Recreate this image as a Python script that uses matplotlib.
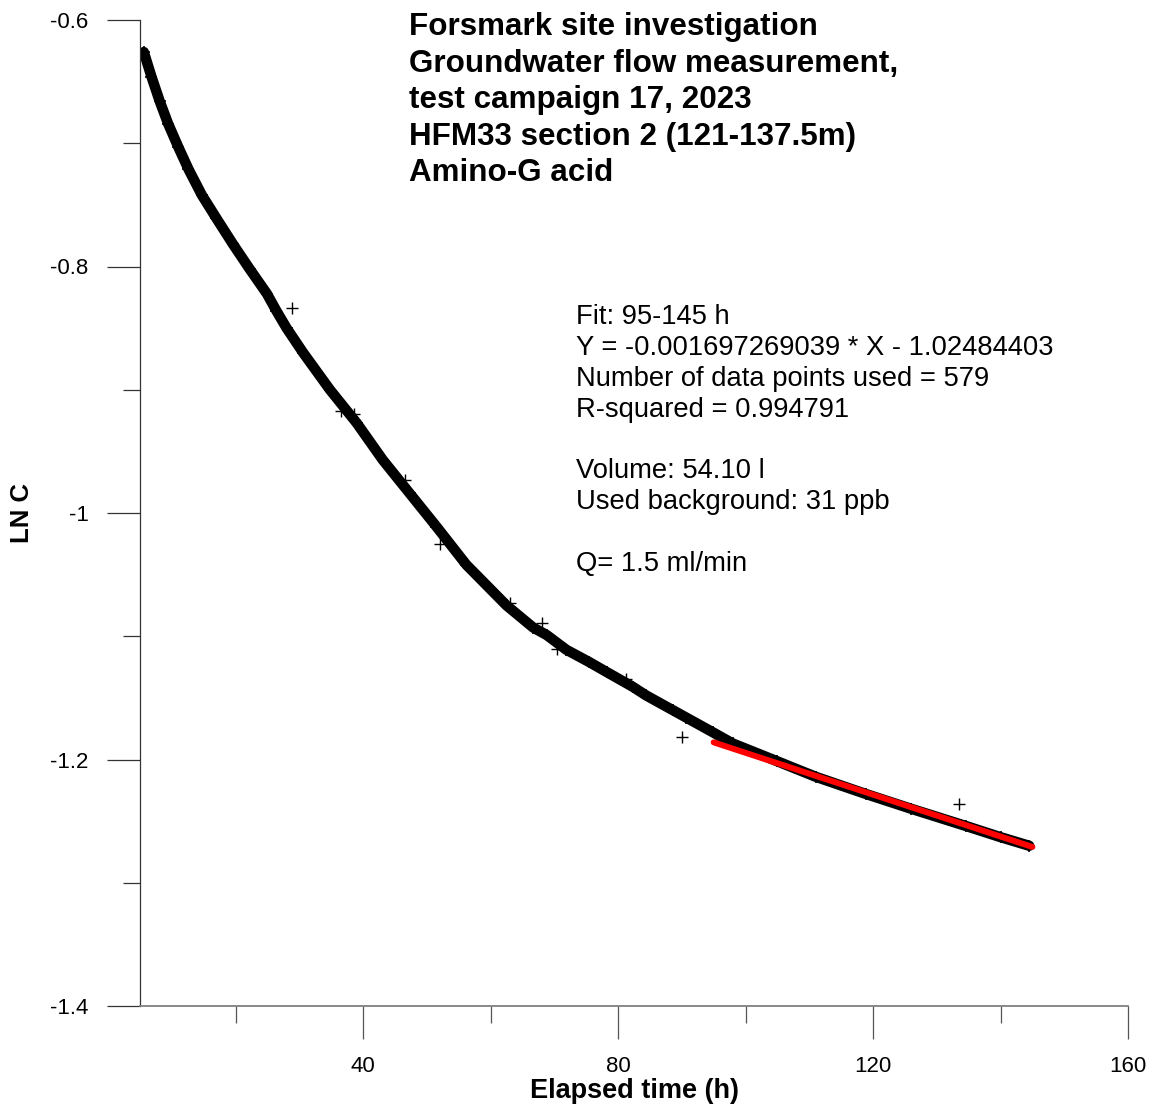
import matplotlib
matplotlib.use("Agg")
import matplotlib.pyplot as plt
import numpy as np

plt.rcParams['font.family'] = ['Liberation Sans', 'DejaVu Sans']

# Measured tracer dilution, ln(C) against elapsed time (h)
time_h = [5.6, 6.8, 8.1, 9.4, 11.0, 12.6, 14.7, 17.0, 19.6, 22.2, 24.9, 26.4,
          28.0, 30.6, 34.8, 39.0, 43.1, 47.3, 51.5, 56.2, 62.5, 66.7, 68.8,
          71.9, 75.5, 78.2, 82.3, 84.4, 88.6, 90.7, 94.9, 98.0, 105.0, 111.0,
          118.9, 126.0, 134.6, 140.0, 144.5]
ln_c = [-0.626, -0.646, -0.666, -0.684, -0.703, -0.721, -0.742, -0.761,
        -0.782, -0.802, -0.822, -0.836, -0.850, -0.870, -0.900, -0.927,
        -0.957, -0.984, -1.011, -1.042, -1.075, -1.093, -1.099, -1.111,
        -1.121, -1.129, -1.141, -1.148, -1.160, -1.166, -1.178, -1.187,
        -1.2015, -1.2140, -1.2280, -1.2400, -1.2540, -1.2630, -1.2700]

# Isolated readings that stand off the main trace
spike_time = [28.9, 36.6, 38.5, 46.5, 52.0, 63.0, 68.0, 70.4, 81.3, 90.0, 133.5]
spike_ln_c = [-0.834, -0.917, -0.920, -0.973, -1.025, -1.073, -1.089, -1.110,
              -1.135, -1.182, -1.236]

# Linear regression over the fit window
fit_start, fit_end = 95.0, 145.0
fit_slope = -0.001697269039
fit_intercept = -1.02484403

title_lines = ["Forsmark site investigation",
               "Groundwater flow measurement,",
               "test campaign 17, 2023",
               "HFM33 section 2 (121-137.5m)",
               "Amino-G acid"]
info_lines = ["Fit: 95-145 h",
              "Y = -0.001697269039 * X - 1.02484403",
              "Number of data points used = 579",
              "R-squared = 0.994791",
              "",
              "Volume: 54.10 l",
              "Used background: 31 ppb",
              "",
              "Q= 1.5 ml/min"]

x_major = [40, 80, 120, 160]
x_minor = [20, 60, 100, 140]
y_major = [-0.6, -0.8, -1.0, -1.2, -1.4]
y_minor = [-0.7, -0.9, -1.1, -1.3]
y_major_labels = ["-0.6", "-0.8", "-1", "-1.2", "-1.4"]

W, H = 1160, 1111
fig = plt.figure(figsize=(W / 100, H / 100), dpi=100)
ax = fig.add_axes([140 / W, 1 - 1006 / H, (1128 - 140) / W, (1006 - 20) / H])
ax.set_xlim(5, 160)
ax.set_ylim(-1.4, -0.6)

# main trace: dense band of crosses
ax.plot(time_h, ln_c, color='black', lw=7.5, solid_capstyle='round',
        solid_joinstyle='round', zorder=2)
ax.plot(time_h, ln_c, ls='none', marker='+', ms=8, mew=1.2, color='black',
        zorder=2)
ax.plot(spike_time, spike_ln_c, ls='none', marker='+', ms=9, mew=1.0,
        color='black', zorder=2)

fit_x = np.array([fit_start, fit_end])
ax.plot(fit_x, fit_slope * fit_x + fit_intercept, color='#ff0000', lw=4.3,
        solid_capstyle='round', zorder=3)

for side in ('top', 'right'):
    ax.spines[side].set_visible(False)
ax.spines['left'].set_color('#333333')
ax.spines['left'].set_linewidth(0.9)
ax.spines['bottom'].set_color('#808080')
ax.spines['bottom'].set_linewidth(1.3)

ax.set_xticks(x_major)
ax.set_xticks(x_minor, minor=True)
ax.set_yticks(y_major)
ax.set_yticklabels(y_major_labels)
ax.set_yticks(y_minor, minor=True)
ax.tick_params(axis='both', which='major', direction='out', length=24,
               width=0.9, labelsize=16)
ax.tick_params(axis='both', which='minor', direction='out', length=12,
               width=0.9)
ax.tick_params(axis='x', which='both', color='#555555', pad=12)
ax.tick_params(axis='y', which='both', color='#333333', pad=13)

for i, line in enumerate(title_lines):
    fig.text(409 / W, 1 - (35 + i * 36.6) / H, line, fontsize=22.6,
             fontweight='bold', ha='left', va='baseline')
for i, line in enumerate(info_lines):
    if line:
        fig.text(576 / W, 1 - (324.3 + i * 30.8) / H, line, fontsize=19.7,
                 ha='left', va='baseline')

fig.text(634 / W, 1 - 1098 / H, "Elapsed time (h)", fontsize=19.5,
         fontweight='bold', ha='center', va='baseline')
fig.text(22 / W, 1 - 513 / H, "LN C", fontsize=18.5, fontweight='bold',
         rotation=90, ha='center', va='center')

fig.savefig("out.png", dpi=100)
